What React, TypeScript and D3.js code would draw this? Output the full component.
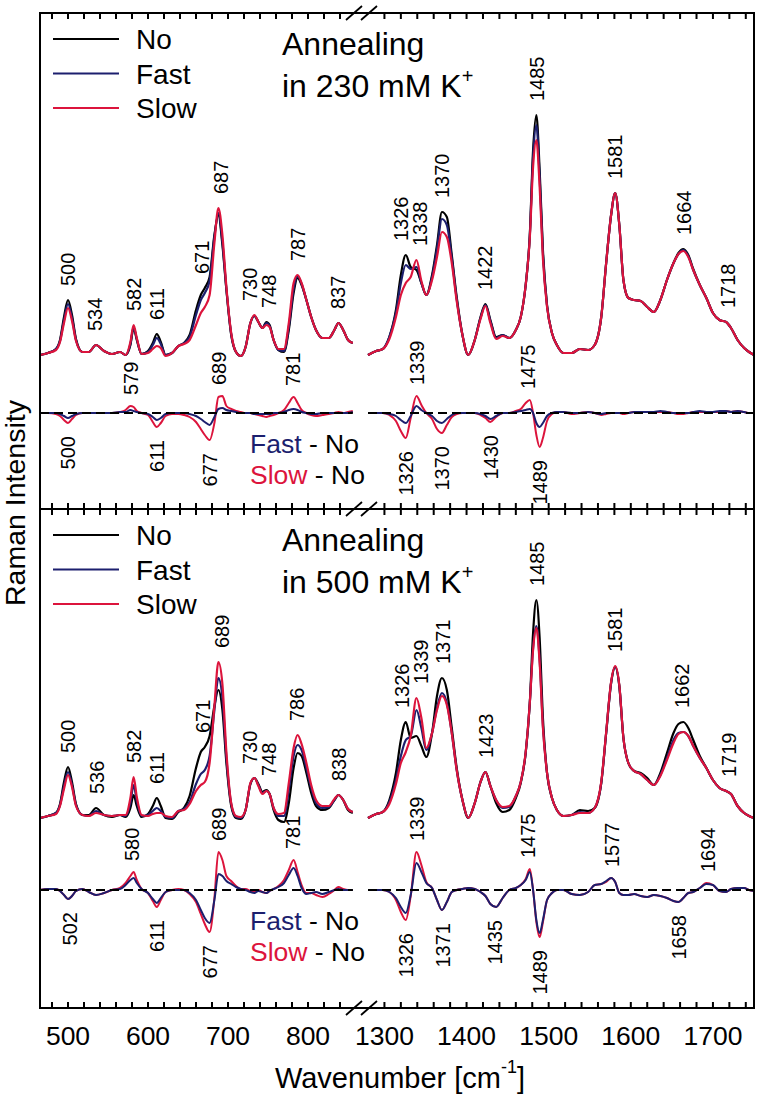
import React from "react";
import * as d3 from "d3";

// ---------- DATA ----------
const L_WN = [465, 475, 485, 490, 495, 500, 505, 510, 518, 526, 535, 545, 555, 565, 572, 578, 582, 586, 592, 600, 606, 611, 616, 622, 630, 638, 645, 652, 660, 666, 671, 677, 683, 688, 693, 698, 704, 710, 716, 722, 728, 733, 738, 743, 748, 752, 757, 763, 770, 776, 782, 787, 792, 798, 804, 810, 818, 826, 833, 838, 844, 850, 856];
const R_WN = [1280, 1290, 1298, 1306, 1314, 1320, 1326, 1332, 1339, 1345, 1351, 1358, 1364, 1370, 1376, 1382, 1388, 1395, 1402, 1410, 1417, 1423, 1429, 1436, 1444, 1452, 1460, 1466, 1472, 1477, 1481, 1485, 1489, 1493, 1498, 1504, 1510, 1518, 1528, 1538, 1548, 1556, 1564, 1570, 1576, 1581, 1586, 1591, 1597, 1604, 1612, 1620, 1628, 1636, 1644, 1652, 1658, 1664, 1670, 1676, 1684, 1692, 1700, 1708, 1716, 1722, 1730, 1738, 1744, 1750];

// Panel 1 (230 mM K+), spectra, left segment
const P1_NO_L = [0, 2, 6, 15, 38, 55, 40, 16, 3, 3, 10, 4, 1, 3, 0, 10, 27, 15, 1, 4, 12, 21, 13, 0, 2, 9, 12, 20, 45, 60, 67, 78, 120, 140, 110, 65, 20, 3, -1, 8, 32, 39, 33, 27, 33, 30, 15, 5, 3, 25, 62, 77, 70, 55, 38, 25, 17, 17, 25, 32, 25, 15, 12];
const P1_FAST_L = [0, 2, 6, 14, 35, 51, 37, 15, 3, 3, 10, 4, 1, 3, 0, 11, 28, 16, 1, 3, 10, 17, 11, 0, 2, 9, 12, 18, 40, 55, 62, 74, 118, 142, 113, 66, 21, 3, -1, 8, 32, 39, 33, 27, 32, 29, 15, 5, 4, 28, 66, 79, 71, 55, 38, 25, 17, 17, 25, 32, 25, 15, 12];
const P1_SLOW_L = [0, 2, 5, 13, 32, 47, 34, 14, 3, 3, 10, 4, 1, 3, 0, 13, 30, 17, 1, 2, 6, 9, 7, -1, 2, 9, 11, 15, 30, 42, 48, 60, 112, 147, 120, 68, 22, 3, -1, 8, 32, 40, 33, 27, 30, 28, 15, 6, 6, 32, 72, 80, 72, 55, 38, 25, 17, 17, 25, 32, 25, 15, 12];
// Panel 1 spectra, right segment
const P1_NO_R = [0, 4, 6, 18, 45, 80, 100, 88, 85, 72, 60, 80, 110, 143, 138, 100, 58, 20, 0, 15, 38, 51, 35, 18, 20, 17, 25, 38, 70, 120, 205, 240, 185, 105, 50, 22, 10, 2, 2, 6, 5, 10, 38, 92, 140, 162, 130, 75, 57, 55, 54, 48, 43, 55, 75, 92, 102, 106, 100, 86, 70, 57, 42, 35, 33, 27, 15, 7, 3, 0];
const P1_FAST_R = [0, 4, 6, 18, 42, 72, 90, 86, 88, 72, 60, 78, 106, 136, 130, 97, 56, 20, 0, 15, 37, 50, 34, 17, 20, 17, 25, 38, 70, 119, 198, 230, 178, 101, 49, 22, 10, 2, 2, 6, 5, 10, 38, 92, 140, 162, 130, 75, 57, 55, 54, 48, 43, 55, 75, 92, 101, 105, 99, 85, 70, 57, 42, 35, 33, 27, 15, 7, 3, 0];
const P1_SLOW_R = [0, 4, 6, 16, 38, 60, 72, 78, 95, 74, 60, 75, 98, 123, 118, 92, 54, 20, 0, 15, 36, 49, 32, 16, 19, 17, 25, 38, 70, 117, 188, 215, 168, 96, 48, 22, 10, 2, 2, 6, 5, 10, 38, 92, 140, 162, 130, 75, 57, 55, 54, 48, 43, 55, 75, 92, 101, 104, 98, 85, 70, 57, 42, 35, 33, 27, 15, 7, 3, 0];
// Panel 1 difference spectra
const P1_DFAST_L = [0, 0, 0, -1, -3, -5, -3, -1, 0, 0, 0, 0, 0, 1, 1, 3, 2, 1, 0, -1, -4, -7, -5, -1, 0, 0, 0, -1, -3, -6, -9, -12, -4, 4, 5, 3, 2, 1, 0, 0, 0, -1, -1, -1, -1, -1, 0, 0, 1, 3, 4, 3, 1, 0, -1, -1, 0, 0, 0, 0, 0, 0, 1];
const P1_DSLOW_L = [0, 0, -1, -3, -7, -10, -6, -2, 0, 0, 0, 0, 0, 1, 3, 7, 6, 2, 0, -2, -9, -14, -10, -3, -1, -1, -2, -4, -9, -16, -22, -27, -10, 16, 17, 7, 4, 2, 1, 0, 0, -1, -2, -3, -4, -3, -2, 0, 3, 10, 16, 10, 3, 0, -2, -3, -2, -1, 0, 1, 0, 1, 2];
const P1_DFAST_R = [0, 0, 0, -1, -3, -7, -10, -3, 7, 3, 0, -3, -8, -10, -6, -2, 0, 0, 0, 0, -1, -3, -6, -3, 0, 0, 1, 2, 3, 4, 0, -10, -14, -10, -3, 0, 1, 1, 0, 0, 1, 0, -1, 0, 0, 0, 0, 0, 0, 1, 1, 1, 1, 2, 1, 0, 0, 0, 0, 1, 2, 1, 1, 2, 2, 1, 2, 1, 0, 0];
const P1_DSLOW_R = [0, 0, 0, -2, -8, -18, -25, -5, 17, 8, 0, -6, -16, -20, -12, -4, -1, 0, 0, 0, -2, -5, -9, -4, 0, 0, 2, 4, 10, 13, 0, -22, -34, -25, -8, -1, 1, 1, -1, 0, 1, 0, -2, -1, 0, 0, 0, -1, 0, 1, 1, 1, 1, 1, 1, 0, -1, -1, 0, 1, 1, 1, 1, 1, 2, 1, 2, 1, 0, 0];

// Panel 2 (500 mM K+), spectra, left segment
const P2_NO_L = [0, 2, 5, 14, 36, 51, 36, 14, 3, 3, 10, 3, 1, 3, 1, 10, 23, 12, 1, 4, 12, 20, 12, 0, -1, 6, 10, 22, 50, 66, 71, 82, 112, 128, 108, 55, 12, 0, -1, 8, 34, 40, 34, 26, 28, 24, 8, -2, -4, 15, 50, 65, 62, 45, 25, 12, 8, 10, 18, 23, 18, 8, 5];
const P2_FAST_L = [0, 2, 5, 13, 32, 46, 33, 13, 3, 2, 7, 3, 2, 3, 2, 15, 33, 17, 2, 3, 7, 10, 7, 1, 0, 7, 9, 16, 34, 44, 48, 62, 108, 140, 120, 60, 14, 1, 0, 8, 34, 40, 33, 25, 27, 24, 10, 2, 2, 28, 62, 73, 68, 50, 30, 15, 10, 11, 18, 23, 18, 9, 6];
const P2_SLOW_L = [0, 2, 4, 12, 29, 43, 31, 12, 3, 2, 5, 3, 2, 3, 3, 20, 41, 21, 3, 2, 4, 5, 5, 2, 1, 7, 8, 14, 27, 33, 36, 55, 112, 156, 134, 66, 15, 2, 1, 8, 35, 40, 32, 24, 27, 24, 10, 4, 5, 35, 70, 83, 74, 55, 33, 18, 12, 12, 19, 23, 18, 9, 6];
// Panel 2 spectra, right segment
const P2_NO_R = [0, 4, 6, 18, 45, 78, 96, 80, 82, 72, 61, 85, 122, 140, 128, 90, 50, 18, 0, 15, 36, 46, 32, 15, 6, 8, 20, 35, 65, 115, 185, 218, 180, 100, 45, 20, 8, 2, 3, 8, 7, 10, 35, 85, 135, 151, 132, 80, 55, 47, 45, 40, 33, 45, 65, 85, 94, 96, 90, 78, 62, 50, 38, 30, 27, 24, 12, 5, 2, 0];
const P2_FAST_R = [0, 4, 6, 16, 38, 62, 78, 82, 108, 90, 68, 85, 110, 125, 115, 85, 48, 18, 0, 15, 36, 46, 32, 18, 10, 11, 22, 36, 65, 115, 170, 192, 158, 92, 45, 20, 8, 2, 3, 6, 5, 10, 35, 85, 135, 151, 132, 80, 55, 47, 44, 38, 33, 43, 60, 78, 85, 86, 82, 72, 60, 50, 38, 30, 27, 24, 12, 5, 2, 0];
const P2_SLOW_R = [0, 4, 6, 14, 34, 55, 66, 82, 120, 100, 70, 85, 108, 122, 113, 85, 48, 18, 0, 15, 36, 46, 32, 18, 11, 12, 22, 36, 66, 115, 168, 190, 155, 90, 45, 20, 8, 2, 3, 5, 5, 10, 36, 86, 136, 152, 133, 80, 55, 47, 44, 38, 33, 42, 58, 75, 84, 86, 82, 72, 60, 50, 38, 30, 27, 24, 12, 5, 2, 0];
// Panel 2 difference spectra
const P2_DFAST_L = [0, 1, 1, -1, -5, -9, -6, -1, 1, -2, -5, -3, 0, 1, 5, 10, 12, 7, 1, -3, -9, -13, -8, -2, 0, 0, 0, -3, -10, -20, -28, -33, -10, 16, 14, 9, 6, 3, 1, 0, -2, -3, -1, -2, -3, -1, 1, 3, 7, 15, 22, 14, 2, -4, -3, -2, -4, -2, 0, 1, 0, 0, 0];
const P2_DSLOW_L = [0, 1, 1, -1, -5, -9, -6, -1, 1, -2, -5, -3, 0, 2, 7, 14, 18, 10, 1, -3, -11, -17, -10, -2, 0, 1, 0, -4, -12, -24, -34, -42, -8, 38, 30, 14, 9, 4, 1, 1, -1, -2, 0, -2, -3, -1, 1, 4, 10, 20, 30, 18, 5, -3, -3, -5, -7, -4, 0, 3, 1, 0, 0];
const P2_DFAST_R = [0, 0, 0, -2, -8, -17, -23, -5, 27, 18, 7, 2, -10, -20, -12, -2, 0, 1, 2, 1, -2, -6, -14, -17, -8, 0, 2, 5, 10, 18, 0, -30, -43, -30, -10, -3, 0, 0, -4, -5, -2, 5, 6, 9, 12, 8, -3, -5, -5, -4, -6, -7, -5, -6, -8, -11, -12, -8, -3, -2, 2, 6, 5, -1, -2, 1, 2, 2, 0, -1];
const P2_DSLOW_R = [0, 0, 0, -2, -10, -22, -30, -6, 38, 25, 8, 2, -10, -20, -12, -2, 0, 1, 2, 1, -2, -6, -14, -17, -8, 0, 2, 5, 11, 21, 0, -32, -47, -32, -10, -3, 0, 0, -4, -5, -2, 5, 6, 8, 12, 8, -3, -5, -5, -4, -6, -7, -5, -6, -8, -11, -12, -8, -3, -2, 2, 7, 5, -1, -2, 1, 2, 2, 0, -1];

// Peak labels
const P1_PEAKS = [500, 534, 582, 611, 671, 687, 730, 748, 787, 837, 1326, 1338, 1370, 1422, 1485, 1581, 1664, 1718];
const P1_DIFF_UP = [579, 689, 781, 1339, 1475];
const P1_DIFF_DOWN = [500, 611, 677, 1326, 1370, 1430, 1489];
const P2_PEAKS = [500, 536, 582, 611, 671, 689, 730, 748, 786, 838, 1326, 1339, 1371, 1423, 1485, 1581, 1662, 1719];
const P2_DIFF_UP = [580, 689, 781, 1339, 1475, 1577, 1694];
const P2_DIFF_DOWN = [502, 611, 677, 1326, 1371, 1435, 1489, 1658];

const SERIES = ["No", "Fast", "Slow"];
const CONCENTRATIONS = ["230", "500"];
const LEFT_TICKS = [500, 600, 700, 800];
const RIGHT_TICKS = [1300, 1400, 1500, 1600, 1700];
const LEFT_MINOR = [480, 500, 520, 540, 560, 580, 600, 620, 640, 660, 680, 700, 720, 740, 760, 780, 800, 820, 840];
const RIGHT_MINOR = [1300, 1320, 1340, 1360, 1380, 1400, 1420, 1440, 1460, 1480, 1500, 1520, 1540, 1560, 1580, 1600, 1620, 1640, 1660, 1680, 1700, 1720, 1740];

// ---------- LAYOUT ----------
const W = 760;
const H = 1099;
const FL = 40, FR = 754, FT = 13, FM = 509, FB = 1008;
const COLORS = ["#000000", "#1c1f6e", "#dc143c"];
const FONT = "'Liberation Sans', Arial, Helvetica, sans-serif";

const xL = d3.scaleLinear().domain([465, 860]).range([40, 356]);
const xR = d3.scaleLinear().domain([1280, 1750]).range([368, 754]);

type Seg = {
  wn: number[];
  x: d3.ScaleLinear<number, number>;
  spectra: number[][];
  diffs: number[][];
  lo: number;
  hi: number;
};

type PanelCfg = {
  top: number;
  bottom: number;
  yDomain: [number, number];
  specOffset: number;
  segs: Seg[];
  peaks: number[];
  up: number[];
  down: number[];
  conc: string;
};

const PANELS: PanelCfg[] = [
  {
    top: FT,
    bottom: FM,
    yDomain: [-96, 400],
    specOffset: 58,
    segs: [
      { wn: L_WN, x: xL, spectra: [P1_NO_L, P1_FAST_L, P1_SLOW_L], diffs: [P1_DFAST_L, P1_DSLOW_L], lo: 465, hi: 860 },
      { wn: R_WN, x: xR, spectra: [P1_NO_R, P1_FAST_R, P1_SLOW_R], diffs: [P1_DFAST_R, P1_DSLOW_R], lo: 1280, hi: 1750 },
    ],
    peaks: P1_PEAKS,
    up: P1_DIFF_UP,
    down: P1_DIFF_DOWN,
    conc: CONCENTRATIONS[0],
  },
  {
    top: FM,
    bottom: FB,
    yDomain: [-118, 381],
    specOffset: 72,
    segs: [
      { wn: L_WN, x: xL, spectra: [P2_NO_L, P2_FAST_L, P2_SLOW_L], diffs: [P2_DFAST_L, P2_DSLOW_L], lo: 465, hi: 860 },
      { wn: R_WN, x: xR, spectra: [P2_NO_R, P2_FAST_R, P2_SLOW_R], diffs: [P2_DFAST_R, P2_DSLOW_R], lo: 1280, hi: 1750 },
    ],
    peaks: P2_PEAKS,
    up: P2_DIFF_UP,
    down: P2_DIFF_DOWN,
    conc: CONCENTRATIONS[1],
  },
];

function interp(wn: number[], v: number[], w: number) {
  for (let i = 0; i < wn.length - 1; i++) {
    if (w >= wn[i] && w <= wn[i + 1]) {
      const t = (w - wn[i]) / (wn[i + 1] - wn[i]);
      return v[i] + t * (v[i + 1] - v[i]);
    }
  }
  return v[v.length - 1];
}

function extremeNear(wn: number[], series: number[][], w: number, win: number, mode: "max" | "min") {
  let best = mode === "max" ? -Infinity : Infinity;
  for (const s of series) {
    const cands = [interp(wn, s, w)];
    wn.forEach((x, i) => {
      if (Math.abs(x - w) <= win) cands.push(s[i]);
    });
    for (const c of cands) best = mode === "max" ? Math.max(best, c) : Math.min(best, c);
  }
  return best;
}

function segFor(p: PanelCfg, w: number) {
  return p.segs.find((s) => w >= s.lo && w <= s.hi)!;
}

function spread(xs: number[], minSep: number) {
  const out = xs.slice();
  for (let it = 0; it < 3; it++) {
    for (let i = 0; i < out.length - 1; i++) {
      const d = out[i + 1] - out[i];
      if (d > 0 && d < minSep) {
        const m = (out[i] + out[i + 1]) / 2;
        out[i] = m - minSep / 2;
        out[i + 1] = m + minSep / 2;
      }
    }
  }
  return out;
}

const LABEL_FS = 20;
const CAP = 0.716 * LABEL_FS;

function Panel({ p }: { p: PanelCfg }) {
  const y = d3.scaleLinear().domain(p.yDomain).range([p.bottom, p.top]);
  const zeroY = y(0);

  const lines = p.segs.map((s, si) => {
    const specLine = d3
      .line<number>()
      .x((_, i) => s.x(s.wn[i]))
      .y((d) => y(d + p.specOffset))
      .curve(d3.curveMonotoneX);
    const diffLine = d3
      .line<number>()
      .x((_, i) => s.x(s.wn[i]))
      .y((d) => y(d))
      .curve(d3.curveMonotoneX);
    const x0 = s.x(s.wn[0]);
    const x1 = s.x(s.wn[s.wn.length - 1]);
    return (
      <g key={si}>
        {s.spectra.map((arr, k) => (
          <path key={"s" + k} d={specLine(arr) || ""} fill="none" stroke={COLORS[k]} strokeWidth={2.2} strokeLinejoin="round" />
        ))}
        <path d={diffLine(s.diffs[1]) || ""} fill="none" stroke={COLORS[2]} strokeWidth={2} strokeLinejoin="round" />
        <path d={diffLine(s.diffs[0]) || ""} fill="none" stroke={COLORS[1]} strokeWidth={2} strokeLinejoin="round" />
        <line x1={x0} x2={x1} y1={zeroY} y2={zeroY} stroke="#000" strokeWidth={2} strokeDasharray="9,5" />
      </g>
    );
  });

  const peakLabels: any[] = [];
  p.segs.forEach((s, si) => {
    const ws = p.peaks.filter((w) => w >= s.lo && w <= s.hi);
    const xs = spread(ws.map((w) => s.x(w)), 19);
    ws.forEach((w, i) => {
      const v = extremeNear(s.wn, s.spectra, w, 5, "max");
      const yb = y(v + p.specOffset) - 14;
      peakLabels.push(
        <text key={"p" + si + "-" + i} transform={`translate(${xs[i] + CAP / 2},${yb}) rotate(-90)`} fontSize={LABEL_FS} fontFamily={FONT} textAnchor="start">
          {w}
        </text>
      );
    });
  });

  const upLabels = p.up.map((w, i) => {
    const s = segFor(p, w);
    const v = extremeNear(s.wn, s.diffs, w, 4, "max");
    const yb = y(v) - 11;
    return (
      <text key={"u" + i} transform={`translate(${s.x(w) + CAP / 2},${yb}) rotate(-90)`} fontSize={LABEL_FS} fontFamily={FONT} textAnchor="start">
        {w}
      </text>
    );
  });
  const downLabels = p.down.map((w, i) => {
    const s = segFor(p, w);
    const v = extremeNear(s.wn, s.diffs, w, 4, "min");
    const yt = y(v) + 13;
    return (
      <text key={"d" + i} transform={`translate(${s.x(w) + CAP / 2},${yt}) rotate(-90)`} fontSize={LABEL_FS} fontFamily={FONT} textAnchor="end">
        {w}
      </text>
    );
  });

  const legend = SERIES.map((name, i) => {
    const ly = p.top + 26 + i * 34.5;
    return (
      <g key={name}>
        <line x1={53} x2={119} y1={ly} y2={ly} stroke={COLORS[i]} strokeWidth={2.2} />
        <text x={136} y={ly + 10} fontSize={28} fontFamily={FONT}>
          {name}
        </text>
      </g>
    );
  });

  return (
    <g>
      {lines}
      {peakLabels}
      {upLabels}
      {downLabels}
      {legend}
      <text x={282} y={p.top + 41.5} fontSize={32} fontFamily={FONT}>
        Annealing
      </text>
      <text x={282} y={p.top + 84} fontSize={32} fontFamily={FONT}>
        {`in ${p.conc} mM K`}
        <tspan fontSize={20} dy={-14}>
          +
        </tspan>
      </text>
      <text x={250} y={zeroY + 40} fontSize={26.5} fontFamily={FONT}>
        <tspan fill={COLORS[1]}>{SERIES[1]}</tspan>
        <tspan fill="#000">{` - ${SERIES[0]}`}</tspan>
      </text>
      <text x={250} y={zeroY + 71} fontSize={26.5} fontFamily={FONT}>
        <tspan fill={COLORS[2]}>{SERIES[2]}</tspan>
        <tspan fill="#000">{` - ${SERIES[0]}`}</tspan>
      </text>
    </g>
  );
}

const TICK_LEN = 6;
const TICK_AXES: [number, number][] = [
  [FT, 1],
  [FM, -1],
  [FM, 1],
  [FB, -1],
];

function TickMarks() {
  const xs = [...LEFT_MINOR.map((t) => xL(t)), ...RIGHT_MINOR.map((t) => xR(t))];
  const rects: any[] = [];
  TICK_AXES.forEach(([ay, dir], ai) => {
    xs.forEach((x, xi) => {
      rects.push(
        <rect
          key={`t${ai}-${xi}`}
          x={x - 1}
          y={dir > 0 ? ay : ay - TICK_LEN}
          width={2}
          height={TICK_LEN}
          fill="#000"
        />
      );
    });
  });
  return <g>{rects}</g>;
}

function breakPath() {
  const path = d3.path();
  [FT, FM, FB].forEach((yy) => {
    [354, 369].forEach((cx) => {
      path.moveTo(cx - 8, yy + 7);
      path.lineTo(cx + 8, yy - 7);
    });
  });
  return path.toString();
}

export default function App() {
  return (
    <svg width={W} height={H} viewBox={`0 0 ${W} ${H}`} style={{ position: "absolute", left: 0, top: 0, background: "#fff" }}>
      <rect x={0} y={0} width={W} height={H} fill="#fff" />
      {PANELS.map((p, i) => (
        <Panel key={i} p={p} />
      ))}
      <rect x={FL} y={FT} width={FR - FL} height={FB - FT} fill="none" stroke="#000" strokeWidth={2} />
      <line x1={FL} x2={FR} y1={FM} y2={FM} stroke="#000" strokeWidth={2} />
      <TickMarks />
      <path d={breakPath()} fill="none" stroke="#000" strokeWidth={1.8} />
      {LEFT_TICKS.map((t) => (
        <text key={t} x={xL(t)} y={1045} fontSize={26.5} fontFamily={FONT} textAnchor="middle">
          {t}
        </text>
      ))}
      {RIGHT_TICKS.map((t) => (
        <text key={t} x={xR(t)} y={1045} fontSize={26.5} fontFamily={FONT} textAnchor="middle">
          {t}
        </text>
      ))}
      <text x={400} y={1088} fontSize={29} fontFamily={FONT} textAnchor="middle">
        Wavenumber [cm
        <tspan fontSize={18} dy={-15}>
          -1
        </tspan>
        <tspan dy={15}>]</tspan>
      </text>
      <text transform="translate(25,503) rotate(-90)" fontSize={28.5} fontFamily={FONT} textAnchor="middle">
        Raman Intensity
      </text>
    </svg>
  );
}
